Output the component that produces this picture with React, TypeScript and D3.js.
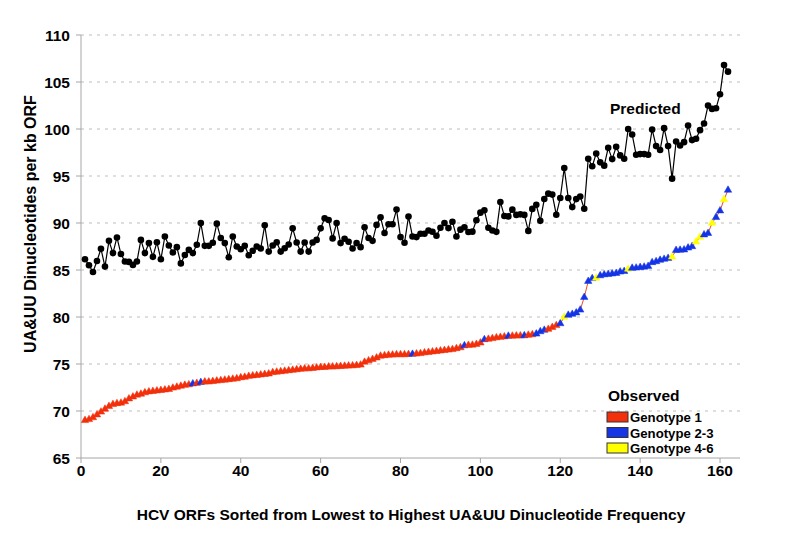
import React from "react";
import * as d3 from "d3";

// ---- data ----
const predicted: number[] = [
  86.14, 85.5, 84.79, 85.96, 87.25, 85.36, 88.1, 86.8, 88.46, 86.7,
  85.9, 85.86, 85.54, 85.9, 88.2, 86.8, 87.86, 86.4, 87.96, 86.14,
  88.57, 87.6, 86.86, 87.43, 85.7, 86.6, 87.14, 86.8, 87.68, 90.0,
  87.57, 87.57, 87.9, 89.93, 88.4, 87.86, 86.36, 88.57, 87.5, 87.2,
  87.57, 86.57, 87.04, 87.5, 87.29, 89.75, 86.96, 87.6, 87.96, 86.96,
  87.32, 87.71, 89.43, 87.93, 86.96, 87.93, 86.96, 87.93, 88.2, 89.43,
  90.5, 90.32, 88.36, 90.0, 87.86, 88.32, 88.0, 87.29, 87.86, 87.43,
  89.54, 88.4, 88.1, 89.8, 90.6, 88.93, 89.86, 89.86, 91.43, 88.5,
  87.9, 90.68, 88.57, 88.5, 88.86, 88.86, 89.21, 89.07, 88.64, 89.5,
  90.0, 89.46, 90.14, 88.57, 89.29, 89.54, 89.04, 89.08, 90.29, 91.1,
  91.35, 89.5, 89.2, 89.06, 92.24, 90.74, 90.7, 91.42, 90.86, 90.92,
  90.86, 89.16, 91.5, 91.93, 90.23, 92.55, 93.12, 93.02, 90.88, 92.66,
  95.85, 92.66, 91.69, 92.54, 92.82, 91.51, 96.84, 96.03, 97.4, 96.45,
  96.1, 98.0, 96.8, 98.1, 97.19, 96.84, 100.0, 99.42, 97.26, 97.33,
  97.33, 97.26, 99.95, 98.18, 97.76, 100.09, 98.18, 94.72, 98.67, 98.25,
  98.6, 100.37, 98.82, 98.96, 99.88, 100.58, 102.49, 102.14, 102.2, 103.7,
  106.8, 106.1,
];

const observed: number[] = [
  69.0, 69.1, 69.3, 69.6, 69.9, 70.2, 70.5, 70.7, 70.8, 70.85,
  71.0, 71.3, 71.5, 71.7, 71.8, 71.95, 72.05, 72.1, 72.15, 72.2,
  72.25, 72.3, 72.45, 72.55, 72.65, 72.75, 72.8, 72.9, 72.95, 73.05,
  73.1, 73.1, 73.15, 73.2, 73.25, 73.3, 73.35, 73.4, 73.45, 73.55,
  73.6, 73.7, 73.75, 73.8, 73.85, 73.9, 73.95, 74.1, 74.15, 74.2,
  74.25, 74.3, 74.35, 74.4, 74.45, 74.5, 74.5, 74.55, 74.6, 74.65,
  74.65, 74.7, 74.7, 74.72, 74.75, 74.78, 74.8, 74.82, 74.85, 74.9,
  75.2, 75.35, 75.5, 75.65, 75.85, 75.9, 75.95, 75.97, 76.0, 76.0,
  76.0, 76.02, 76.05, 76.08, 76.12, 76.2, 76.25, 76.3, 76.35, 76.4,
  76.45, 76.5, 76.55, 76.65, 76.75, 76.95, 77.0, 77.02, 77.1, 77.25,
  77.6, 77.65, 77.72, 77.8, 77.85, 77.9, 77.97, 77.98, 78.0, 78.0,
  78.02, 78.08, 78.12, 78.2, 78.45, 78.6, 78.7, 78.9, 79.1, 79.3,
  80.0, 80.2, 80.3, 80.45, 80.75, 82.1, 83.8, 84.1, 84.15, 84.4,
  84.5, 84.55, 84.6, 84.65, 84.8, 84.85, 85.1, 85.2, 85.22, 85.28,
  85.32, 85.4, 85.8, 85.9, 86.05, 86.15, 86.25, 86.4, 87.1, 87.12,
  87.15, 87.35, 87.5, 88.0, 88.5, 88.75, 88.9, 90.0, 90.6, 91.3,
  92.5, 93.5,
];

// 1 = Genotype 1, 2 = Genotype 2-3, 3 = Genotype 4-6
const genotype: number[] = [
  1, 1, 1, 1, 1, 1, 1, 1, 1, 1,
  1, 1, 1, 1, 1, 1, 1, 1, 1, 1,
  1, 1, 1, 1, 1, 1, 1, 2, 1, 2,
  1, 1, 1, 1, 1, 1, 1, 1, 1, 1,
  1, 1, 1, 1, 1, 1, 1, 1, 1, 1,
  1, 1, 1, 1, 1, 1, 1, 1, 1, 1,
  1, 1, 1, 1, 1, 1, 1, 1, 1, 1,
  1, 1, 1, 1, 1, 1, 1, 1, 1, 1,
  1, 1, 2, 1, 1, 1, 1, 1, 1, 1,
  1, 1, 1, 1, 1, 2, 1, 1, 1, 1,
  2, 1, 1, 1, 1, 1, 2, 1, 1, 1,
  2, 1, 1, 2, 2, 2, 1, 1, 1, 2,
  3, 2, 2, 2, 2, 2, 2, 2, 3, 2,
  2, 2, 2, 2, 2, 2, 3, 2, 2, 2,
  2, 2, 2, 2, 2, 2, 2, 3, 2, 2,
  2, 2, 2, 3, 3, 2, 2, 3, 2, 2,
  3, 2,
];

const legendLabels: string[] = ["Genotype 1", "Genotype 2-3", "Genotype 4-6"];
const genotypeColors: string[] = ["#f2300c", "#1434e6", "#ffff00"];
const xTicks: number[] = [0, 20, 40, 60, 80, 100, 120, 140, 160];
const yTicks: number[] = [65, 70, 75, 80, 85, 90, 95, 100, 105, 110];

const W = 800;
const H = 541;
const FONT = "'Liberation Sans', Arial, Helvetica, sans-serif";

export default function App() {
  const x = d3.scaleLinear().domain([0, 165]).range([81, 740]);
  const y = d3.scaleLinear().domain([65, 110]).range([458, 35]);

  const predPts = predicted.map((v, i) => [i + 1, v] as [number, number]);
  const obsPts = observed.map((v, i) => [i + 1, v] as [number, number]);

  const line = d3
    .line<[number, number]>()
    .x((d) => x(d[0]))
    .y((d) => y(d[1]));

  const tri = d3.symbol().type(d3.symbolTriangle).size(24)() as string;

  return (
    <svg
      width={W}
      height={H}
      style={{ position: "absolute", left: 0, top: 0, display: "block", background: "#fff" }}
      fontFamily={FONT}
    >
      {/* gridlines */}
      {yTicks
        .filter((t) => t > 65)
        .map((t) => (
          <line
            key={"g" + t}
            x1={x(0)}
            x2={x(165)}
            y1={y(t)}
            y2={y(t)}
            stroke="#bdbdbd"
            strokeWidth={1}
            strokeDasharray="3,5"
          />
        ))}

      {/* axes */}
      <line x1={x(0)} x2={x(0)} y1={y(110)} y2={y(65)} stroke="#a6a6a6" strokeWidth={1} />
      <line x1={x(0)} x2={x(165)} y1={y(65)} y2={y(65)} stroke="#a6a6a6" strokeWidth={1} />
      {yTicks.map((t) => (
        <g key={"y" + t}>
          <line x1={x(0) - 5} x2={x(0)} y1={y(t)} y2={y(t)} stroke="#a6a6a6" />
          <text
            x={70}
            y={y(t)}
            dy="0.36em"
            textAnchor="end"
            fontSize={15.5}
            fontWeight="bold"
            fill="#000"
          >
            {t}
          </text>
        </g>
      ))}
      {xTicks.map((t) => (
        <g key={"x" + t}>
          <line x1={x(t)} x2={x(t)} y1={y(65)} y2={y(65) + 5} stroke="#a6a6a6" />
          <text
            x={x(t)}
            y={476}
            textAnchor="middle"
            fontSize={15.5}
            fontWeight="bold"
            fill="#000"
          >
            {t}
          </text>
        </g>
      ))}

      {/* axis titles */}
      <text
        x={411}
        y={520}
        textAnchor="middle"
        fontSize={15.5}
        fontWeight="bold"
        fill="#000"
      >
        HCV ORFs Sorted from Lowest to Highest UA&amp;UU Dinucleotide Frequency
      </text>
      <text
        transform={`translate(36,${224}) rotate(-90)`}
        textAnchor="middle"
        fontSize={16}
        fontWeight="bold"
        fill="#000"
      >
        UA&amp;UU Dinucleotides per kb ORF
      </text>

      {/* observed series */}
      <path d={line(obsPts) || ""} fill="none" stroke="#f04a20" strokeWidth={1} />
      {obsPts.map((d, i) => (
        <path
          key={"o" + i}
          d={tri}
          transform={`translate(${x(d[0])},${y(d[1])})`}
          fill={genotypeColors[genotype[i] - 1]}
          stroke={genotypeColors[genotype[i] - 1]}
          strokeWidth={0.5}
        />
      ))}

      {/* predicted series */}
      <path d={line(predPts) || ""} fill="none" stroke="#000" strokeWidth={1.2} />
      {predPts.map((d, i) => (
        <circle key={"p" + i} cx={x(d[0])} cy={y(d[1])} r={3.3} fill="#000" />
      ))}

      <text x={610} y={114} fontSize={15.5} fontWeight="bold" fill="#000">
        Predicted
      </text>

      {/* legend */}
      <text x={608} y={401} fontSize={15.5} fontWeight="bold" fill="#000">
        Observed
      </text>
      {legendLabels.map((lab, i) => (
        <g key={"l" + i} transform={`translate(607,${412 + i * 15.5})`}>
          <rect width={21} height={10} fill={genotypeColors[i]} stroke="#333" strokeWidth={1} />
          <text x={23} y={10} fontSize={13.2} fontWeight="bold" fill="#000">
            {lab}
          </text>
        </g>
      ))}
    </svg>
  );
}
